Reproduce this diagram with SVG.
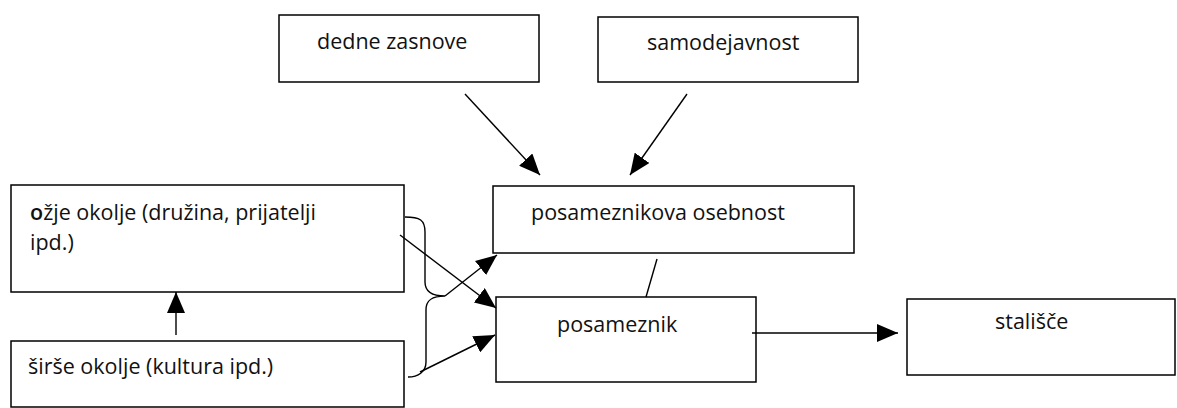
<svg xmlns="http://www.w3.org/2000/svg" width="1177" height="408" viewBox="0 0 1177 408">
<style>
.box{fill:#fff;stroke:#000;stroke-width:1.5}
.t{font-family:"Open Sans","DejaVu Sans",sans-serif;font-size:21.5px;fill:#111}
.c{fill:none;stroke:#000;stroke-width:1.4}
</style>
<defs>
<marker id="ah" markerUnits="userSpaceOnUse" markerWidth="22" markerHeight="18" refX="21" refY="9" orient="auto">
<path d="M0,0 L21,9 L0,18 Z" fill="#000"/>
</marker>
</defs>
<rect width="1177" height="408" fill="#fff"/>
<g id="dedne"><rect class="box" x="279" y="15" width="260" height="67"/><text class="t" x="317" y="49">dedne zasnove</text></g>
<g id="samodejavnost"><rect class="box" x="598" y="17" width="260" height="65"/><text class="t" x="647" y="50">samodejavnost</text></g>
<g id="osebnost"><rect class="box" x="493" y="186" width="361" height="67"/><text class="t" x="531" y="220">posameznikova osebnost</text></g>
<g id="posameznik"><rect class="box" x="496" y="297" width="260" height="85"/><text class="t" x="557" y="332">posameznik</text></g>
<g id="stalisce"><rect class="box" x="907" y="299" width="268" height="76"/><text class="t" x="995" y="329">stališče</text></g>
<g id="ozje"><rect class="box" x="11" y="185" width="393" height="107"/><text class="t" x="30" y="220"><tspan font-weight="600">o</tspan>žje okolje (družina, prijatelji</text><text class="t" x="30" y="250">ipd.)</text></g>
<g id="sirse"><rect class="box" x="11" y="341" width="393" height="66"/><text class="t" x="28" y="374">širše okolje (kultura ipd.)</text></g>
<g id="connectors">
<line class="c" x1="465" y1="94" x2="540" y2="175" marker-end="url(#ah)"/>
<line class="c" x1="687" y1="94" x2="630" y2="175" marker-end="url(#ah)"/>
<line class="c" x1="657" y1="259" x2="646" y2="297"/>
<line class="c" x1="752" y1="333" x2="898" y2="333" marker-end="url(#ah)"/>
<line class="c" x1="176" y1="335" x2="176" y2="292" marker-end="url(#ah)"/>
<path class="c" d="M405,217 C420,217 425,220 425,232 L425,282 C425,292 432,296 445,296 C432,296 426,300 426,310 L426,362 C426,372 418,377 408,377"/>
<line class="c" x1="400" y1="235" x2="496" y2="308" marker-end="url(#ah)"/>
<line class="c" x1="445" y1="296" x2="497" y2="255" marker-end="url(#ah)"/>
<line class="c" x1="420" y1="372" x2="495" y2="335" marker-end="url(#ah)"/>
</g>
</svg>
